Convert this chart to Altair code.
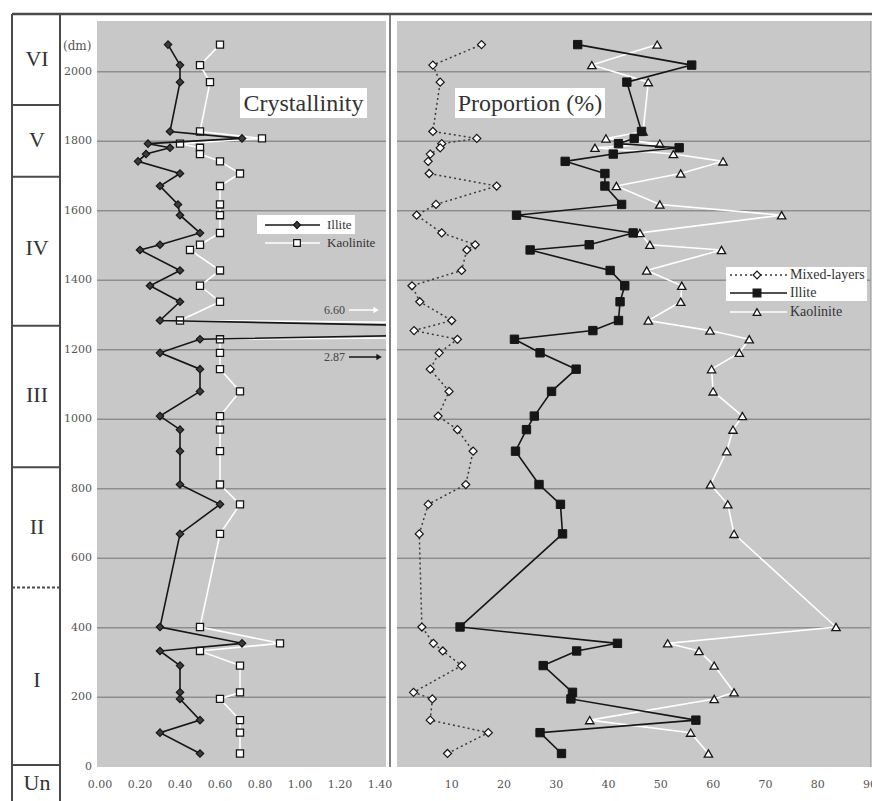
import altair as alt
import pandas as pd

# ---------------- data ----------------
depth_dm = [2078, 2019, 1970, 1828, 1808, 1793, 1781, 1763, 1742, 1707,
            1671, 1618, 1587, 1536, 1502, 1487, 1428, 1384, 1338, 1284,
            1255, 1230, 1191, 1144, 1080, 1009, 970, 908, 812, 755,
            670, 402, 355, 333, 291, 214, 195, 134, 98, 38]

illite_cryst = [0.34, 0.40, 0.40, 0.35, 0.71, 0.24, 0.35, 0.23, 0.19, 0.40,
                0.30, 0.39, 0.40, 0.50, 0.30, 0.20, 0.40, 0.25, 0.40, 0.30,
                2.87, 0.50, 0.30, 0.50, 0.50, 0.30, 0.40, 0.40, 0.40, 0.60,
                0.40, 0.30, 0.71, 0.30, 0.40, 0.40, 0.40, 0.50, 0.30, 0.50]

kaolinite_cryst = [0.60, 0.50, 0.55, 0.50, 0.81, 0.40, 0.50, 0.50, 0.60, 0.70,
                   0.60, 0.60, 0.60, 0.60, 0.50, 0.45, 0.60, 0.50, 0.60, 0.40,
                   6.60, 0.60, 0.60, 0.60, 0.70, 0.60, 0.60, 0.60, 0.60, 0.70,
                   0.60, 0.50, 0.90, 0.50, 0.70, 0.70, 0.60, 0.70, 0.70, 0.70]

mixed_pct = [15.7, 6.4, 7.8, 6.4, 14.8, 8.1, 7.8, 5.9, 5.5, 5.7,
             18.6, 7.0, 3.3, 8.1, 14.5, 12.9, 11.9, 2.4, 3.9, 10.0,
             2.8, 11.1, 7.6, 5.9, 9.5, 7.4, 11.1, 14.1, 12.7, 5.5,
             3.8, 4.3, 6.5, 8.3, 11.9, 2.7, 6.3, 5.9, 17.0, 9.2]

illite_pct = [34.1, 55.9, 43.5, 46.3, 44.9, 41.9, 53.5, 40.9, 31.7, 39.3,
              39.3, 42.5, 22.4, 44.7, 36.3, 25.0, 40.3, 43.1, 42.2, 41.9,
              37.0, 22.0, 26.9, 33.8, 29.1, 25.8, 24.3, 22.2, 26.7, 30.8,
              31.2, 11.6, 41.7, 33.9, 27.5, 33.1, 32.8, 56.7, 26.9, 31.0]

kaolinite_pct = [49.3, 36.8, 47.6, 46.6, 39.5, 49.8, 37.4, 52.4, 61.9, 53.8,
                 41.5, 49.8, 73.1, 46.0, 47.9, 61.6, 47.3, 54.0, 53.8, 47.6,
                 59.4, 66.9, 65.0, 59.7, 60.0, 65.6, 63.8, 62.6, 59.5, 62.8,
                 64.0, 83.5, 51.3, 57.3, 60.2, 64.0, 60.2, 36.4, 55.7, 59.1]

grid_depths = [200, 400, 600, 800, 1000, 1200, 1400, 1600, 1800, 2000]
depth_ticks = [0, 200, 400, 600, 800, 1000, 1200, 1400, 1600, 1800, 2000]
cryst_ticks = [0.0, 0.2, 0.4, 0.6, 0.8, 1.0, 1.2, 1.4]
pct_ticks = [10, 20, 30, 40, 50, 60, 70, 80, 90]

unit_names = ["VI", "V", "IV", "III", "II", "I", "Un"]
unit_name_depth = [2036, 1803, 1493, 1070, 690, 250, -47]
unit_bound_depth = [1904, 1698, 1269, 862, 5]
unit_dashed_depth = [516]

# ---------------- styling ----------------
FONT = "Liberation Serif"
TFONT = "DejaVu Serif"
BG = "#c8c8c8"
GRID = "#8e8e8e"
DARK = "#161616"
LINEC = "#3a3a3a"
TXT = "#333333"

ysc = alt.Scale(domain=[0, 2000], range=[766.7, 71.7], nice=False, zero=False)
xc_sc = alt.Scale(domain=[0, 1.4], range=[100, 380], nice=False, zero=False)
xp_sc = alt.Scale(domain=[0, 90], range=[399.4, 870], nice=False, zero=False)
Yd = alt.Y("depth:Q", scale=ysc, axis=None)

df = pd.DataFrame({"depth": depth_dm, "ic": illite_cryst, "kc": kaolinite_cryst,
                   "mix": mixed_pct, "ip": illite_pct, "kp": kaolinite_pct})
one = pd.DataFrame({"k": [0]})


def rect(x1, x2, y1, y2, color):
    return alt.Chart(one).mark_rect(color=color).encode(
        x=alt.value(x1), x2=alt.value(x2), y=alt.value(y1), y2=alt.value(y2))


def hline(x1, x2, y, color, w=1.5, dash=None):
    kw = dict(color=color, strokeWidth=w)
    if dash:
        kw["strokeDash"] = dash
    return alt.Chart(one).mark_rule(**kw).encode(
        x=alt.value(x1), x2=alt.value(x2), y=alt.value(y))


def sym(x, y, shape, fill, stroke, size, sw=1.2):
    return alt.Chart(one).mark_point(shape=shape, filled=True, fill=fill, stroke=stroke,
                                     strokeWidth=sw, size=size, opacity=1).encode(
        x=alt.value(x), y=alt.value(y))


def label(x, y, text, size, align="left", font=FONT, color=TXT):
    return alt.Chart(one).mark_text(text=text, font=font, fontSize=size, align=align,
                                    baseline="middle", color=color).encode(
        x=alt.value(x), y=alt.value(y))


layers = []

# ---------- left panel: crystallinity ----------
layers.append(rect(97, 386, 21, 767, BG))
layers.append(alt.Chart(pd.DataFrame({"depth": grid_depths})).mark_rule(
    color=GRID, strokeWidth=1.5).encode(x=alt.value(97), x2=alt.value(386), y=Yd))

xk = alt.X("kc:Q", scale=xc_sc, axis=None)
xi = alt.X("ic:Q", scale=xc_sc, axis=None)
layers.append(alt.Chart(df).mark_line(color="#ffffff", strokeWidth=1.6).encode(
    x=xk, y=Yd, order="depth:Q"))
layers.append(alt.Chart(df).mark_point(shape="square", filled=True, fill="#ffffff",
                                       stroke=DARK, strokeWidth=1.3, size=50, opacity=1).encode(
    x=xk, y=Yd))
layers.append(alt.Chart(df).mark_line(color=DARK, strokeWidth=1.6).encode(
    x=xi, y=Yd, order="depth:Q"))
layers.append(alt.Chart(df).mark_point(shape="diamond", filled=True, fill="#3c3c3c",
                                       stroke=DARK, strokeWidth=1.2, size=55, opacity=1).encode(
    x=xi, y=Yd))

# title box
layers.append(rect(240, 367, 88, 118, "#ffffff"))
layers.append(label(303.5, 104, "Crystallinity", 24, align="center"))
# legend
layers.append(rect(257, 355, 215, 234, "#ffffff"))
layers.append(hline(265, 320, 225, DARK))
layers.append(sym(297, 225, "diamond", "#3c3c3c", DARK, 50))
layers.append(label(327, 225, "Illite", 13))
layers.append(hline(265, 320, 243, "#ffffff"))
layers.append(sym(297, 243, "square", "#ffffff", DARK, 45))
layers.append(label(327, 243, "Kaolinite", 13))
# off-scale annotations
layers.append(label(345, 310, "6.60", 12, align="right", color="#444444"))
layers.append(hline(349, 374, 310, "#ffffff"))
layers.append(sym(376, 310, "triangle-right", "#ffffff", "#ffffff", 30, 0.5))
layers.append(label(345, 357, "2.87", 12, align="right", color="#444444"))
layers.append(hline(349, 377, 357, DARK))
layers.append(sym(379, 357, "triangle-right", DARK, DARK, 30, 0.5))

# ---------- separator ----------
layers.append(rect(386, 397, 14, 767, "#ffffff"))
layers.append(alt.Chart(one).mark_rule(color="#555555", strokeWidth=1.5).encode(
    x=alt.value(390), y=alt.value(14), y2=alt.value(767)))

# ---------- right panel: proportion ----------
layers.append(rect(397, 872, 21, 767, BG))
layers.append(alt.Chart(one).mark_rule(color="#a8a8a8", strokeWidth=1).encode(
    x=alt.value(870.5), y=alt.value(21), y2=alt.value(767)))
layers.append(alt.Chart(pd.DataFrame({"depth": grid_depths})).mark_rule(
    color=GRID, strokeWidth=1.5).encode(x=alt.value(397), x2=alt.value(870), y=Yd))

xkp = alt.X("kp:Q", scale=xp_sc, axis=None)
xmx = alt.X("mix:Q", scale=xp_sc, axis=None)
xip = alt.X("ip:Q", scale=xp_sc, axis=None)
layers.append(alt.Chart(df).mark_line(color="#ffffff", strokeWidth=1.6).encode(
    x=xkp, y=Yd, order="depth:Q"))
layers.append(alt.Chart(df).mark_point(shape="triangle-up", filled=True, fill="#ffffff",
                                       stroke=DARK, strokeWidth=1.3, size=70, opacity=1).encode(
    x=xkp, y=Yd))
layers.append(alt.Chart(df).mark_line(color=LINEC, strokeWidth=1.5, strokeDash=[2, 3]).encode(
    x=xmx, y=Yd, order="depth:Q"))
layers.append(alt.Chart(df).mark_point(shape="diamond", filled=True, fill="#ffffff",
                                       stroke=DARK, strokeWidth=1.2, size=65, opacity=1).encode(
    x=xmx, y=Yd))
layers.append(alt.Chart(df).mark_line(color=DARK, strokeWidth=1.6).encode(
    x=xip, y=Yd, order="depth:Q"))
layers.append(alt.Chart(df).mark_point(shape="square", filled=True, fill=DARK,
                                       stroke=DARK, strokeWidth=1, size=70, opacity=1).encode(
    x=xip, y=Yd))

# title box
layers.append(rect(455, 605, 88, 118, "#ffffff"))
layers.append(label(530, 104, "Proportion (%)", 24, align="center"))
# legend
layers.append(rect(726, 867, 267, 301, "#ffffff"))
layers.append(hline(730, 787, 275, LINEC, 1.5, [2, 3]))
layers.append(sym(757, 275, "diamond", "#ffffff", DARK, 60))
layers.append(label(790, 275, "Mixed-layers", 14))
layers.append(hline(730, 787, 293, DARK))
layers.append(sym(757, 293, "square", DARK, DARK, 60))
layers.append(label(790, 293, "Illite", 14))
layers.append(hline(730, 787, 312, "#ffffff"))
layers.append(sym(757, 312, "triangle-up", "#ffffff", DARK, 60))
layers.append(label(790, 312, "Kaolinite", 14))

# ---------- tick labels ----------
layers.append(alt.Chart(pd.DataFrame({"v": cryst_ticks})).mark_text(
    font=TFONT, fontSize=11, color="#555555", baseline="middle", align="center").encode(
    x=alt.X("v:Q", scale=xc_sc, axis=None), y=alt.value(785),
    text=alt.Text("v:Q", format=".2f")))
layers.append(alt.Chart(pd.DataFrame({"v": pct_ticks})).mark_text(
    font=TFONT, fontSize=11, color="#555555", baseline="middle", align="center").encode(
    x=alt.X("v:Q", scale=xp_sc, axis=None), y=alt.value(785),
    text=alt.Text("v:Q", format="d")))
layers.append(alt.Chart(pd.DataFrame({"depth": depth_ticks})).mark_text(
    font=TFONT, fontSize=11, color="#555555", baseline="middle", align="right").encode(
    x=alt.value(92), y=Yd, text=alt.Text("depth:Q", format="d")))
layers.append(label(63, 46, "(dm)", 12, font=TFONT, color="#555555"))

# ---------- stratigraphic unit column ----------
layers.append(hline(12, 872, 14, "#4a4a4a", 2.5))
layers.append(alt.Chart(pd.DataFrame({"xpix": [12, 60]})).mark_rule(
    color="#4a4a4a", strokeWidth=2).encode(
    x=alt.X("xpix:Q", scale=None), y=alt.value(14), y2=alt.value(801)))
layers.append(alt.Chart(pd.DataFrame({"depth": unit_bound_depth})).mark_rule(
    color="#4a4a4a", strokeWidth=2).encode(x=alt.value(12), x2=alt.value(60), y=Yd))
layers.append(alt.Chart(pd.DataFrame({"depth": unit_dashed_depth})).mark_rule(
    color="#4a4a4a", strokeWidth=2, strokeDash=[3, 2]).encode(
    x=alt.value(12), x2=alt.value(60), y=Yd))
layers.append(alt.Chart(pd.DataFrame({"depth": unit_name_depth, "name": unit_names})).mark_text(
    font=FONT, fontSize=22, color=TXT, baseline="middle", align="center").encode(
    x=alt.value(37), y=Yd, text="name:N"))

chart = alt.layer(*layers).resolve_scale(x="independent", y="independent").properties(
    width=872, height=801, padding=0,
    autosize=alt.AutoSizeParams(type="none"),
    background="#ffffff",
).configure_view(stroke=None)

chart.save("out.html", embed_options={"renderer": "svg", "actions": False})
